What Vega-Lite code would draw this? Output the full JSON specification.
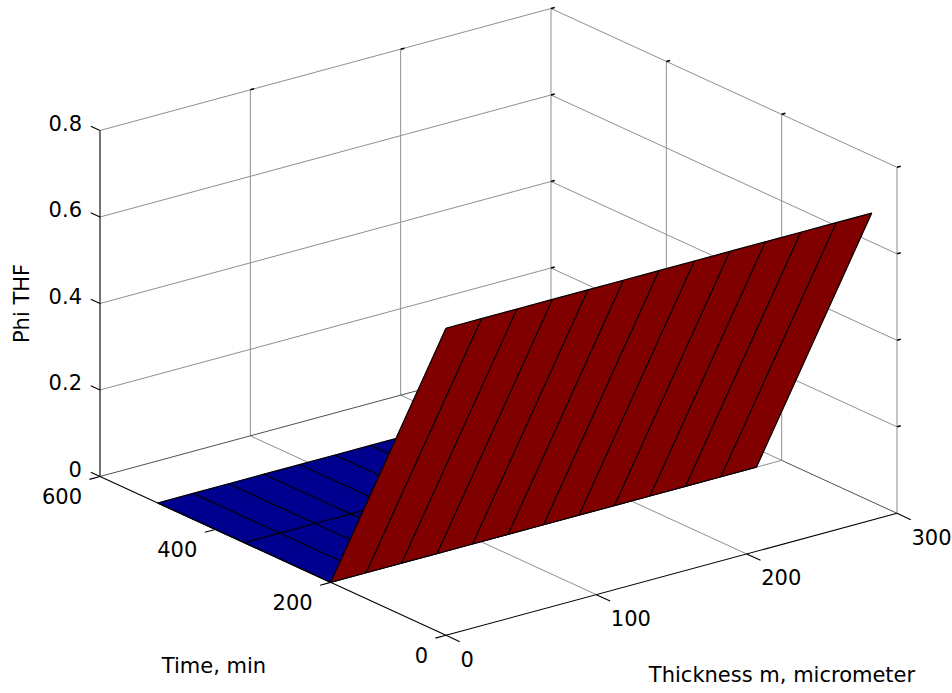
{
  "$schema": "https://vega.github.io/schema/vega-lite/v6.json",
  "width": 952,
  "height": 693,
  "autosize": {"type": "fit", "contains": "padding"},
  "padding": 0,
  "background": "white",
  "config": {"view": {"stroke": null}, "text": {"font": "DejaVu Sans", "fontSize": 21, "color": "black"}},
  "datasets": {
    "surface": [
      {"time": 0, "thick": 0, "phi": 0.71}, {"time": 0, "thick": 23.6, "phi": 0.71}, {"time": 0, "thick": 47.2, "phi": 0.71}, {"time": 0, "thick": 70.8, "phi": 0.71}, {"time": 0, "thick": 94.4, "phi": 0.71}, {"time": 0, "thick": 118, "phi": 0.71}, {"time": 0, "thick": 141.6, "phi": 0.71}, {"time": 0, "thick": 165.2, "phi": 0.71}, {"time": 0, "thick": 188.8, "phi": 0.71}, {"time": 0, "thick": 212.4, "phi": 0.71}, {"time": 0, "thick": 236, "phi": 0.71}, {"time": 0, "thick": 259.6, "phi": 0.71}, {"time": 0, "thick": 283.2, "phi": 0.71},
      {"time": 200, "thick": 0, "phi": 0}, {"time": 200, "thick": 23.6, "phi": 0}, {"time": 200, "thick": 47.2, "phi": 0}, {"time": 200, "thick": 70.8, "phi": 0}, {"time": 200, "thick": 94.4, "phi": 0}, {"time": 200, "thick": 118, "phi": 0}, {"time": 200, "thick": 141.6, "phi": 0}, {"time": 200, "thick": 165.2, "phi": 0}, {"time": 200, "thick": 188.8, "phi": 0}, {"time": 200, "thick": 212.4, "phi": 0}, {"time": 200, "thick": 236, "phi": 0}, {"time": 200, "thick": 259.6, "phi": 0}, {"time": 200, "thick": 283.2, "phi": 0},
      {"time": 350, "thick": 0, "phi": 0}, {"time": 350, "thick": 23.6, "phi": 0}, {"time": 350, "thick": 47.2, "phi": 0}, {"time": 350, "thick": 70.8, "phi": 0}, {"time": 350, "thick": 94.4, "phi": 0}, {"time": 350, "thick": 118, "phi": 0}, {"time": 350, "thick": 141.6, "phi": 0}, {"time": 350, "thick": 165.2, "phi": 0}, {"time": 350, "thick": 188.8, "phi": 0}, {"time": 350, "thick": 212.4, "phi": 0}, {"time": 350, "thick": 236, "phi": 0}, {"time": 350, "thick": 259.6, "phi": 0}, {"time": 350, "thick": 283.2, "phi": 0},
      {"time": 500, "thick": 0, "phi": 0}, {"time": 500, "thick": 23.6, "phi": 0}, {"time": 500, "thick": 47.2, "phi": 0}, {"time": 500, "thick": 70.8, "phi": 0}, {"time": 500, "thick": 94.4, "phi": 0}, {"time": 500, "thick": 118, "phi": 0}, {"time": 500, "thick": 141.6, "phi": 0}, {"time": 500, "thick": 165.2, "phi": 0}, {"time": 500, "thick": 188.8, "phi": 0}, {"time": 500, "thick": 212.4, "phi": 0}, {"time": 500, "thick": 236, "phi": 0}, {"time": 500, "thick": 259.6, "phi": 0}, {"time": 500, "thick": 283.2, "phi": 0}
    ],
    "box": [
      {"kind": "grid", "t1": 600, "h1": 0, "z1": 0.2, "t2": 600, "h2": 300, "z2": 0.2},
      {"kind": "grid", "t1": 600, "h1": 0, "z1": 0.4, "t2": 600, "h2": 300, "z2": 0.4},
      {"kind": "grid", "t1": 600, "h1": 0, "z1": 0.6, "t2": 600, "h2": 300, "z2": 0.6},
      {"kind": "grid", "t1": 600, "h1": 0, "z1": 0.8, "t2": 600, "h2": 300, "z2": 0.8},
      {"kind": "grid", "t1": 600, "h1": 100, "z1": 0, "t2": 600, "h2": 100, "z2": 0.8},
      {"kind": "grid", "t1": 600, "h1": 200, "z1": 0, "t2": 600, "h2": 200, "z2": 0.8},
      {"kind": "grid", "t1": 600, "h1": 300, "z1": 0, "t2": 600, "h2": 300, "z2": 0.8},
      {"kind": "grid", "t1": 0, "h1": 300, "z1": 0.2, "t2": 600, "h2": 300, "z2": 0.2},
      {"kind": "grid", "t1": 0, "h1": 300, "z1": 0.4, "t2": 600, "h2": 300, "z2": 0.4},
      {"kind": "grid", "t1": 0, "h1": 300, "z1": 0.6, "t2": 600, "h2": 300, "z2": 0.6},
      {"kind": "grid", "t1": 0, "h1": 300, "z1": 0.8, "t2": 600, "h2": 300, "z2": 0.8},
      {"kind": "grid", "t1": 0, "h1": 300, "z1": 0, "t2": 0, "h2": 300, "z2": 0.8},
      {"kind": "grid", "t1": 200, "h1": 300, "z1": 0, "t2": 200, "h2": 300, "z2": 0.8},
      {"kind": "grid", "t1": 400, "h1": 300, "z1": 0, "t2": 400, "h2": 300, "z2": 0.8},
      {"kind": "grid", "t1": 0, "h1": 100, "z1": 0, "t2": 600, "h2": 100, "z2": 0},
      {"kind": "grid", "t1": 0, "h1": 200, "z1": 0, "t2": 600, "h2": 200, "z2": 0},
      {"kind": "grid", "t1": 200, "h1": 0, "z1": 0, "t2": 200, "h2": 300, "z2": 0},
      {"kind": "grid", "t1": 400, "h1": 0, "z1": 0, "t2": 400, "h2": 300, "z2": 0},
      {"kind": "grid", "t1": 200, "h1": 300, "z1": 0, "t2": 600, "h2": 300, "z2": 0},
      {"kind": "edge", "t1": 600, "h1": 0, "z1": 0, "t2": 600, "h2": 300, "z2": 0},
      {"kind": "edge", "t1": 0, "h1": 300, "z1": 0, "t2": 200, "h2": 300, "z2": 0},
      {"kind": "mini", "t1": 600, "h1": 100, "z1": 0.8, "t2": 600, "h2": 102.5, "z2": 0.8},
      {"kind": "mini", "t1": 600, "h1": 200, "z1": 0.8, "t2": 600, "h2": 202.5, "z2": 0.8},
      {"kind": "mini", "t1": 600, "h1": 300, "z1": 0.8, "t2": 600, "h2": 302.5, "z2": 0.8},
      {"kind": "mini", "t1": 0, "h1": 300, "z1": 0.8, "t2": 0, "h2": 302.5, "z2": 0.8},
      {"kind": "mini", "t1": 200, "h1": 300, "z1": 0.8, "t2": 200, "h2": 302.5, "z2": 0.8},
      {"kind": "mini", "t1": 400, "h1": 300, "z1": 0.8, "t2": 400, "h2": 302.5, "z2": 0.8},
      {"kind": "mini", "t1": 600, "h1": 300, "z1": 0.2, "t2": 600, "h2": 302.5, "z2": 0.2},
      {"kind": "mini", "t1": 600, "h1": 300, "z1": 0.4, "t2": 600, "h2": 302.5, "z2": 0.4},
      {"kind": "mini", "t1": 600, "h1": 300, "z1": 0.6, "t2": 600, "h2": 302.5, "z2": 0.6},
      {"kind": "mini", "t1": 0, "h1": 300, "z1": 0.2, "t2": 0, "h2": 302.5, "z2": 0.2},
      {"kind": "mini", "t1": 0, "h1": 300, "z1": 0.4, "t2": 0, "h2": 302.5, "z2": 0.4},
      {"kind": "mini", "t1": 0, "h1": 300, "z1": 0.6, "t2": 0, "h2": 302.5, "z2": 0.6},
      {"kind": "axis", "t1": 600, "h1": 0, "z1": 0, "t2": 600, "h2": 0, "z2": 0.8},
      {"kind": "axis", "t1": 0, "h1": 0, "z1": 0, "t2": 600, "h2": 0, "z2": 0},
      {"kind": "axis", "t1": 0, "h1": 0, "z1": 0, "t2": 0, "h2": 300, "z2": 0}
    ],
    "ticks": [
      {"axis": "z", "value": 0, "label": "0"}, {"axis": "z", "value": 0.2, "label": "0.2"}, {"axis": "z", "value": 0.4, "label": "0.4"}, {"axis": "z", "value": 0.6, "label": "0.6"}, {"axis": "z", "value": 0.8, "label": "0.8"},
      {"axis": "time", "value": 0, "label": "0"}, {"axis": "time", "value": 200, "label": "200"}, {"axis": "time", "value": 400, "label": "400"}, {"axis": "time", "value": 600, "label": "600"},
      {"axis": "thick", "value": 0, "label": "0"}, {"axis": "thick", "value": 100, "label": "100"}, {"axis": "thick", "value": 200, "label": "200"}, {"axis": "thick", "value": 300, "label": "300"}
    ]
  },
  "layer": [
    {
      "data": {"name": "box"},
      "transform": [
        {"filter": "datum.kind == 'grid'"},
        {"calculate": "446 + 1.50333*datum.h1 - 0.57667*datum.t1", "as": "x1"},
        {"calculate": "635.3 - 0.40667*datum.h1 - 0.26467*datum.t1 - 432.5*datum.z1", "as": "y1"},
        {"calculate": "446 + 1.50333*datum.h2 - 0.57667*datum.t2", "as": "x2"},
        {"calculate": "635.3 - 0.40667*datum.h2 - 0.26467*datum.t2 - 432.5*datum.z2", "as": "y2"}
      ],
      "mark": {"type": "rule", "stroke": "#8f8f8f", "strokeWidth": 1},
      "encoding": {
        "x": {"field": "x1", "type": "quantitative", "scale": {"domain": [0, 952], "nice": false, "zero": false}, "axis": null},
        "y": {"field": "y1", "type": "quantitative", "scale": {"domain": [0, 693], "nice": false, "zero": false, "reverse": true}, "axis": null},
        "x2": {"field": "x2"},
        "y2": {"field": "y2"}
      }
    },
    {
      "data": {"name": "box"},
      "transform": [
        {"filter": "datum.kind == 'edge'"},
        {"calculate": "446 + 1.50333*datum.h1 - 0.57667*datum.t1", "as": "x1"},
        {"calculate": "635.3 - 0.40667*datum.h1 - 0.26467*datum.t1 - 432.5*datum.z1", "as": "y1"},
        {"calculate": "446 + 1.50333*datum.h2 - 0.57667*datum.t2", "as": "x2"},
        {"calculate": "635.3 - 0.40667*datum.h2 - 0.26467*datum.t2 - 432.5*datum.z2", "as": "y2"}
      ],
      "mark": {"type": "rule", "stroke": "#505050", "strokeWidth": 1},
      "encoding": {
        "x": {"field": "x1", "type": "quantitative", "scale": {"domain": [0, 952], "nice": false, "zero": false}, "axis": null},
        "y": {"field": "y1", "type": "quantitative", "scale": {"domain": [0, 693], "nice": false, "zero": false, "reverse": true}, "axis": null},
        "x2": {"field": "x2"},
        "y2": {"field": "y2"}
      }
    },
    {
      "data": {"name": "box"},
      "transform": [
        {"filter": "datum.kind == 'mini'"},
        {"calculate": "446 + 1.50333*datum.h1 - 0.57667*datum.t1", "as": "x1"},
        {"calculate": "635.3 - 0.40667*datum.h1 - 0.26467*datum.t1 - 432.5*datum.z1", "as": "y1"},
        {"calculate": "446 + 1.50333*datum.h2 - 0.57667*datum.t2", "as": "x2"},
        {"calculate": "635.3 - 0.40667*datum.h2 - 0.26467*datum.t2 - 432.5*datum.z2", "as": "y2"}
      ],
      "mark": {"type": "rule", "stroke": "black", "strokeWidth": 1.6},
      "encoding": {
        "x": {"field": "x1", "type": "quantitative", "scale": {"domain": [0, 952], "nice": false, "zero": false}, "axis": null},
        "y": {"field": "y1", "type": "quantitative", "scale": {"domain": [0, 693], "nice": false, "zero": false, "reverse": true}, "axis": null},
        "x2": {"field": "x2"},
        "y2": {"field": "y2"}
      }
    },
    {
      "data": {"name": "surface"},
      "transform": [
        {"filter": "datum.time == 200 || datum.time == 500"},
        {"calculate": "446 + 1.50333*datum.thick - 0.57667*datum.time", "as": "px"},
        {"calculate": "635.3 - 0.40667*datum.thick - 0.26467*datum.time - 432.5*datum.phi", "as": "py"},
        {"calculate": "datum.time == 200 ? datum.thick : 1000 - datum.thick", "as": "ord"}
      ],
      "mark": {"type": "line", "interpolate": "linear-closed", "filled": true, "fill": "#00008F", "stroke": "#00008F", "strokeWidth": 0.5},
      "encoding": {
        "x": {"field": "px", "type": "quantitative", "scale": {"domain": [0, 952], "nice": false, "zero": false}, "axis": null},
        "y": {"field": "py", "type": "quantitative", "scale": {"domain": [0, 693], "nice": false, "zero": false, "reverse": true}, "axis": null},
        "order": {"field": "ord", "type": "quantitative"}
      }
    },
    {
      "data": {"name": "surface"},
      "transform": [
        {"filter": "datum.time >= 200"},
        {"calculate": "446 + 1.50333*datum.thick - 0.57667*datum.time", "as": "px"},
        {"calculate": "635.3 - 0.40667*datum.thick - 0.26467*datum.time - 432.5*datum.phi", "as": "py"}
      ],
      "mark": {"type": "line", "stroke": "black", "strokeWidth": 1.2},
      "encoding": {
        "x": {"field": "px", "type": "quantitative", "scale": {"domain": [0, 952], "nice": false, "zero": false}, "axis": null},
        "y": {"field": "py", "type": "quantitative", "scale": {"domain": [0, 693], "nice": false, "zero": false, "reverse": true}, "axis": null},
        "detail": {"field": "thick", "type": "nominal"},
        "order": {"field": "time", "type": "quantitative"}
      }
    },
    {
      "data": {"name": "surface"},
      "transform": [
        {"filter": "datum.time == 350 || datum.time == 500"},
        {"calculate": "446 + 1.50333*datum.thick - 0.57667*datum.time", "as": "px"},
        {"calculate": "635.3 - 0.40667*datum.thick - 0.26467*datum.time - 432.5*datum.phi", "as": "py"}
      ],
      "mark": {"type": "line", "stroke": "black", "strokeWidth": 1.2},
      "encoding": {
        "x": {"field": "px", "type": "quantitative", "scale": {"domain": [0, 952], "nice": false, "zero": false}, "axis": null},
        "y": {"field": "py", "type": "quantitative", "scale": {"domain": [0, 693], "nice": false, "zero": false, "reverse": true}, "axis": null},
        "detail": {"field": "time", "type": "nominal"},
        "order": {"field": "thick", "type": "quantitative"}
      }
    },
    {
      "data": {"name": "surface"},
      "transform": [
        {"filter": "datum.time <= 200"},
        {"calculate": "446 + 1.50333*datum.thick - 0.57667*datum.time", "as": "px"},
        {"calculate": "635.3 - 0.40667*datum.thick - 0.26467*datum.time - 432.5*datum.phi", "as": "py"},
        {"calculate": "datum.time == 0 ? datum.thick : 1000 - datum.thick", "as": "ord"}
      ],
      "mark": {"type": "line", "interpolate": "linear-closed", "filled": true, "fill": "#800000", "stroke": "#800000", "strokeWidth": 0.5},
      "encoding": {
        "x": {"field": "px", "type": "quantitative", "scale": {"domain": [0, 952], "nice": false, "zero": false}, "axis": null},
        "y": {"field": "py", "type": "quantitative", "scale": {"domain": [0, 693], "nice": false, "zero": false, "reverse": true}, "axis": null},
        "order": {"field": "ord", "type": "quantitative"}
      }
    },
    {
      "data": {"name": "surface"},
      "transform": [
        {"filter": "datum.time <= 200"},
        {"calculate": "446 + 1.50333*datum.thick - 0.57667*datum.time", "as": "px"},
        {"calculate": "635.3 - 0.40667*datum.thick - 0.26467*datum.time - 432.5*datum.phi", "as": "py"}
      ],
      "mark": {"type": "line", "stroke": "black", "strokeWidth": 1.2},
      "encoding": {
        "x": {"field": "px", "type": "quantitative", "scale": {"domain": [0, 952], "nice": false, "zero": false}, "axis": null},
        "y": {"field": "py", "type": "quantitative", "scale": {"domain": [0, 693], "nice": false, "zero": false, "reverse": true}, "axis": null},
        "detail": {"field": "thick", "type": "nominal"},
        "order": {"field": "time", "type": "quantitative"}
      }
    },
    {
      "data": {"name": "surface"},
      "transform": [
        {"filter": "datum.time <= 200"},
        {"calculate": "446 + 1.50333*datum.thick - 0.57667*datum.time", "as": "px"},
        {"calculate": "635.3 - 0.40667*datum.thick - 0.26467*datum.time - 432.5*datum.phi", "as": "py"}
      ],
      "mark": {"type": "line", "stroke": "black", "strokeWidth": 1.2},
      "encoding": {
        "x": {"field": "px", "type": "quantitative", "scale": {"domain": [0, 952], "nice": false, "zero": false}, "axis": null},
        "y": {"field": "py", "type": "quantitative", "scale": {"domain": [0, 693], "nice": false, "zero": false, "reverse": true}, "axis": null},
        "detail": {"field": "time", "type": "nominal"},
        "order": {"field": "thick", "type": "quantitative"}
      }
    },
    {
      "data": {"name": "box"},
      "transform": [
        {"filter": "datum.kind == 'axis'"},
        {"calculate": "446 + 1.50333*datum.h1 - 0.57667*datum.t1", "as": "x1"},
        {"calculate": "635.3 - 0.40667*datum.h1 - 0.26467*datum.t1 - 432.5*datum.z1", "as": "y1"},
        {"calculate": "446 + 1.50333*datum.h2 - 0.57667*datum.t2", "as": "x2"},
        {"calculate": "635.3 - 0.40667*datum.h2 - 0.26467*datum.t2 - 432.5*datum.z2", "as": "y2"}
      ],
      "mark": {"type": "rule", "stroke": "black", "strokeWidth": 1.1},
      "encoding": {
        "x": {"field": "x1", "type": "quantitative", "scale": {"domain": [0, 952], "nice": false, "zero": false}, "axis": null},
        "y": {"field": "y1", "type": "quantitative", "scale": {"domain": [0, 693], "nice": false, "zero": false, "reverse": true}, "axis": null},
        "x2": {"field": "x2"},
        "y2": {"field": "y2"}
      }
    },
    {
      "data": {"name": "ticks"},
      "transform": [
        {"calculate": "datum.axis == 'time' ? datum.value : (datum.axis == 'z' ? 600 : 0)", "as": "tt"},
        {"calculate": "datum.axis == 'thick' ? datum.value : 0", "as": "hh"},
        {"calculate": "datum.axis == 'z' ? datum.value : 0", "as": "zz"},
        {"calculate": "datum.axis == 'z' ? 616 : (datum.axis == 'thick' ? -24 : datum.tt)", "as": "tt2"},
        {"calculate": "datum.axis == 'time' ? -7 : datum.hh", "as": "hh2"},
        {"calculate": "446 + 1.50333*datum.hh - 0.57667*datum.tt", "as": "x1"},
        {"calculate": "635.3 - 0.40667*datum.hh - 0.26467*datum.tt - 432.5*datum.zz", "as": "y1"},
        {"calculate": "446 + 1.50333*datum.hh2 - 0.57667*datum.tt2", "as": "x2"},
        {"calculate": "635.3 - 0.40667*datum.hh2 - 0.26467*datum.tt2 - 432.5*datum.zz", "as": "y2"}
      ],
      "mark": {"type": "rule", "stroke": "black", "strokeWidth": 1.1},
      "encoding": {
        "x": {"field": "x1", "type": "quantitative", "scale": {"domain": [0, 952], "nice": false, "zero": false}, "axis": null},
        "y": {"field": "y1", "type": "quantitative", "scale": {"domain": [0, 693], "nice": false, "zero": false, "reverse": true}, "axis": null},
        "x2": {"field": "x2"},
        "y2": {"field": "y2"}
      }
    },
    {
      "data": {"name": "ticks"},
      "transform": [
        {"filter": "datum.axis == 'z'"},
        {"calculate": "446 - 0.57667*600", "as": "px"},
        {"calculate": "635.3 - 0.26467*600 - 432.5*datum.value", "as": "py"}
      ],
      "mark": {"type": "text", "align": "right", "baseline": "middle", "dx": -18, "dy": -5.5},
      "encoding": {
        "x": {"field": "px", "type": "quantitative", "scale": {"domain": [0, 952], "nice": false, "zero": false}, "axis": null},
        "y": {"field": "py", "type": "quantitative", "scale": {"domain": [0, 693], "nice": false, "zero": false, "reverse": true}, "axis": null},
        "text": {"field": "label"}
      }
    },
    {
      "data": {"name": "ticks"},
      "transform": [
        {"filter": "datum.axis == 'time'"},
        {"calculate": "446 - 0.57667*datum.value", "as": "px"},
        {"calculate": "635.3 - 0.26467*datum.value", "as": "py"}
      ],
      "mark": {"type": "text", "align": "right", "baseline": "middle", "dx": -18, "dy": 22},
      "encoding": {
        "x": {"field": "px", "type": "quantitative", "scale": {"domain": [0, 952], "nice": false, "zero": false}, "axis": null},
        "y": {"field": "py", "type": "quantitative", "scale": {"domain": [0, 693], "nice": false, "zero": false, "reverse": true}, "axis": null},
        "text": {"field": "label"}
      }
    },
    {
      "data": {"name": "ticks"},
      "transform": [
        {"filter": "datum.axis == 'thick'"},
        {"calculate": "446 + 1.50333*datum.value", "as": "px"},
        {"calculate": "635.3 - 0.40667*datum.value", "as": "py"}
      ],
      "mark": {"type": "text", "align": "left", "baseline": "middle", "dx": 14.5, "dy": 25.5},
      "encoding": {
        "x": {"field": "px", "type": "quantitative", "scale": {"domain": [0, 952], "nice": false, "zero": false}, "axis": null},
        "y": {"field": "py", "type": "quantitative", "scale": {"domain": [0, 693], "nice": false, "zero": false, "reverse": true}, "axis": null},
        "text": {"field": "label"}
      }
    },
    {
      "data": {"values": [{"title": "Phi THF", "t": 600, "h": 0, "z": 0.4}]},
      "transform": [
        {"calculate": "446 + 1.50333*datum.h - 0.57667*datum.t", "as": "px"},
        {"calculate": "635.3 - 0.40667*datum.h - 0.26467*datum.t - 432.5*datum.z", "as": "py"}
      ],
      "mark": {"type": "text", "align": "center", "baseline": "middle", "angle": 270, "dy": -77, "dx": 0},
      "encoding": {
        "x": {"field": "px", "type": "quantitative", "scale": {"domain": [0, 952], "nice": false, "zero": false}, "axis": null},
        "y": {"field": "py", "type": "quantitative", "scale": {"domain": [0, 693], "nice": false, "zero": false, "reverse": true}, "axis": null},
        "text": {"field": "title"}
      }
    },
    {
      "data": {"values": [{"title": "Time, min", "t": 300, "h": 0, "z": 0}]},
      "transform": [
        {"calculate": "446 + 1.50333*datum.h - 0.57667*datum.t", "as": "px"},
        {"calculate": "635.3 - 0.40667*datum.h - 0.26467*datum.t - 432.5*datum.z", "as": "py"}
      ],
      "mark": {"type": "text", "align": "center", "baseline": "middle", "dx": -59, "dy": 111.5},
      "encoding": {
        "x": {"field": "px", "type": "quantitative", "scale": {"domain": [0, 952], "nice": false, "zero": false}, "axis": null},
        "y": {"field": "py", "type": "quantitative", "scale": {"domain": [0, 693], "nice": false, "zero": false, "reverse": true}, "axis": null},
        "text": {"field": "title"}
      }
    },
    {
      "data": {"values": [{"title": "Thickness m, micrometer", "t": 0, "h": 150, "z": 0}]},
      "transform": [
        {"calculate": "446 + 1.50333*datum.h - 0.57667*datum.t", "as": "px"},
        {"calculate": "635.3 - 0.40667*datum.h - 0.26467*datum.t - 432.5*datum.z", "as": "py"}
      ],
      "mark": {"type": "text", "align": "center", "baseline": "middle", "dx": 110.5, "dy": 102},
      "encoding": {
        "x": {"field": "px", "type": "quantitative", "scale": {"domain": [0, 952], "nice": false, "zero": false}, "axis": null},
        "y": {"field": "py", "type": "quantitative", "scale": {"domain": [0, 693], "nice": false, "zero": false, "reverse": true}, "axis": null},
        "text": {"field": "title"}
      }
    }
  ]
}
